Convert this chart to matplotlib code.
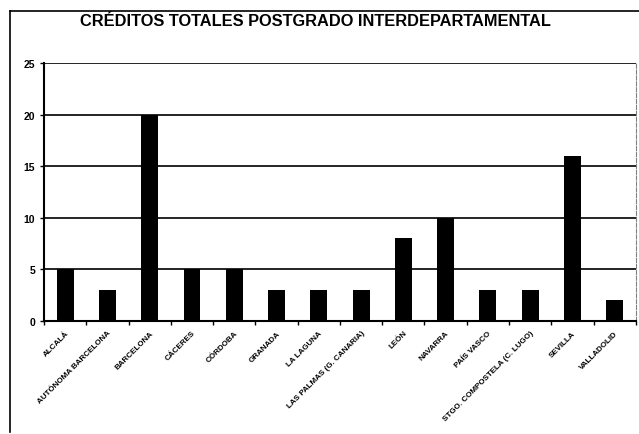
import numpy as np
import matplotlib.pyplot as plt
from matplotlib.lines import Line2D

plt.rcParams['font.family'] = ['Liberation Sans', 'DejaVu Sans']

universidades = ['ALCALÁ', 'AUTÓNOMA BARCELONA', 'BARCELONA', 'CÁCERES', 'CÓRDOBA',
                 'GRANADA', 'LA LAGUNA', 'LAS PALMAS (G. CANARIA)', 'LEÓN', 'NAVARRA',
                 'PAÍS VASCO', 'STGO. COMPOSTELA (C. LUGO)', 'SEVILLA', 'VALLADOLID']
creditos = [5, 3, 20, 5, 5, 3, 3, 3, 8, 10, 3, 3, 16, 2]
yticks = [0, 5, 10, 15, 20, 25]

fig = plt.figure(figsize=(6.39, 4.35), dpi=100)
ax = fig.add_axes([0.069, 0.26, 0.926, 0.593])

x = np.arange(len(universidades))
ax.bar(x, creditos, width=0.4, color='black', zorder=3)

ax.set_xlim(-0.5, len(universidades) - 0.5)
ax.set_ylim(0, 25)
ax.set_yticks(yticks)
ax.set_yticklabels([str(t) for t in yticks], fontsize=7.5, fontweight='bold')
ax.yaxis.grid(True, color='black', linewidth=1.2, zorder=0)

ax.set_xticks(x)
ax.set_xticklabels(universidades, rotation=45, ha='right', rotation_mode='anchor',
                   fontsize=5.8, fontweight='bold')
ax.tick_params(axis='x', length=0, pad=6)
ax.set_xticks(np.arange(-0.5, len(universidades), 1), minor=True)
ax.tick_params(axis='x', which='minor', length=3, width=1)
ax.tick_params(axis='y', length=3, width=1)

for s in ['left', 'bottom']:
    ax.spines[s].set_linewidth(1.5)
ax.spines['top'].set_visible(False)
ax.spines['right'].set_color('gray')
ax.spines['right'].set_linestyle('--')

fig.text(0.494, 0.950, 'CRÉDITOS TOTALES POSTGRADO INTERDEPARTAMENTAL',
         ha='center', va='center', fontsize=11.8, fontweight='heavy')

# marco exterior
fig.add_artist(Line2D([10/639, 10/639], [1 - 12/435, 0.005], color='black', linewidth=1.2))
fig.add_artist(Line2D([10/639, 1.0], [1 - 12/435, 1 - 12/435], color='black', linewidth=1.2))

fig.savefig('out.png', dpi=100)
